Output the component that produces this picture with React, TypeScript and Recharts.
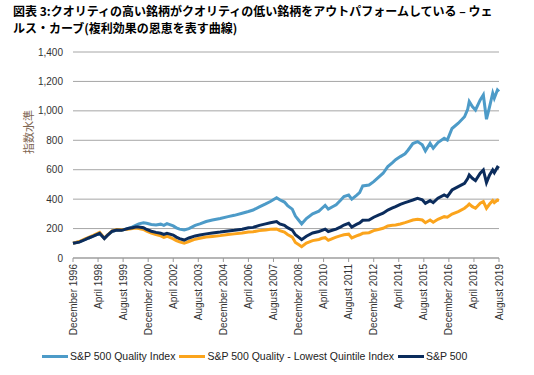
import { LineChart, Line, XAxis, YAxis, CartesianGrid, Legend } from "recharts";

const dates = [
  "1996-12", "1997-04", "1997-08", "1997-10", "1998-01", "1998-05", "1998-08", "1998-10",
  "1999-01", "1999-04", "1999-07", "1999-11", "2000-02", "2000-04", "2000-06", "2000-09",
  "2000-11", "2001-02", "2001-05", "2001-08", "2001-10", "2001-12", "2002-04", "2002-06",
  "2002-08", "2002-11", "2003-02", "2003-06", "2003-09", "2004-01", "2004-05", "2004-10",
  "2005-03", "2005-07", "2005-12", "2006-04", "2006-07", "2006-11", "2007-03", "2007-06",
  "2007-10", "2007-12", "2008-03", "2008-05", "2008-08", "2008-10", "2008-12", "2009-02",
  "2009-05", "2009-09", "2010-01", "2010-03", "2010-05", "2010-07", "2010-10", "2010-12",
  "2011-03", "2011-05", "2011-08", "2011-10", "2012-01", "2012-03", "2012-05", "2012-09",
  "2012-12", "2013-03", "2013-06", "2013-09", "2013-12", "2014-02", "2014-05", "2014-08",
  "2014-10", "2015-01", "2015-04", "2015-07", "2015-09", "2015-12", "2016-02", "2016-05",
  "2016-09", "2016-11", "2017-02", "2017-06", "2017-10", "2017-12", "2018-01", "2018-03",
  "2018-05", "2018-08", "2018-10", "2018-12", "2019-02", "2019-04", "2019-05", "2019-07",
  "2019-08",
];

const quality = [
  100, 110, 128, 136, 150, 168, 134, 156,
  180, 190, 188, 200, 212, 222, 232, 240,
  236, 228, 224, 230, 222, 234, 218, 205,
  196, 190, 200, 222, 232, 248, 258, 268,
  281, 290, 304, 316, 326, 348, 368, 384,
  410, 396, 380, 356, 332, 285, 258, 232,
  268, 300, 318, 338, 358, 332, 350, 362,
  394, 418, 428, 400, 426, 445, 490, 496,
  519, 548, 576, 621, 648, 668, 689, 708,
  734, 778, 791, 770, 728, 780, 746, 784,
  814, 802, 880, 916, 960, 1010, 1063, 1029,
  1006, 1074, 1108, 943, 1029, 1120, 1086, 1142,
  1131,
];

const lowest = [
  100, 112, 132, 140, 154, 174, 134, 156,
  184, 194, 192, 196, 200, 204, 200, 194,
  182, 170, 160, 150, 140, 148, 130, 118,
  110, 100, 112, 128, 134, 142, 146, 152,
  160, 164, 170, 176, 178, 186, 190, 196,
  197, 186, 176, 160, 142, 106, 92, 77,
  102, 118, 126, 134, 138, 120, 134, 142,
  152, 158, 162, 136, 150, 158, 168, 172,
  186, 194, 202, 218, 222, 224, 231, 240,
  247, 258, 263, 258, 240, 258, 243, 263,
  281, 277, 299, 315, 338, 356, 367, 349,
  338, 372, 383, 338, 367, 390, 376, 394,
  390,
];

const sp500 = [
  100, 108, 126, 136, 148, 168, 132, 154,
  182, 190, 188, 200, 206, 210, 210, 206,
  194, 182, 174, 168, 160, 168, 156, 142,
  132, 122, 136, 150, 156, 164, 170, 176,
  184, 188, 196, 205, 208, 222, 232, 240,
  248, 232, 222, 206, 190, 158, 142, 125,
  148, 170, 180, 188, 196, 180, 190, 196,
  212, 224, 236, 210, 228, 238, 256, 258,
  277, 292, 304, 326, 340, 349, 365, 376,
  383, 394, 406, 396, 372, 390, 376, 406,
  428, 417, 462, 485, 508, 540, 564, 542,
  526, 576, 598, 512, 564, 598, 580, 617,
  610,
];

const tickLabels = [
  "December 1996", "April 1998", "August 1999", "December 2000", "April 2002", "August 2003",
  "December 2004", "April 2006", "August 2007", "December 2008", "April 2010", "August 2011",
  "December 2012", "April 2014", "August 2015", "December 2016", "April 2018", "August 2019",
];

const MONTHS = ["January", "February", "March", "April", "May", "June", "July", "August", "September", "October", "November", "December"];

// months counted from December 1996
const toMonth = (y: number, m: number) => (y - 1996) * 12 + m - 12;
const data = dates.map((d, i) => {
  const [y, m] = d.split("-").map(Number);
  return { m: toMonth(y, m), quality: quality[i], lowest: lowest[i], sp500: sp500[i] };
});
const tickMap = new Map<number, string>();
tickLabels.forEach(l => {
  const [name, y] = l.split(" ");
  tickMap.set(toMonth(Number(y), MONTHS.indexOf(name) + 1), l);
});
const xTicks = [...tickMap.keys()];

const SERIES = [
  { key: "quality", name: "S&P 500 Quality Index", color: "#4d9bc8" },
  { key: "lowest", name: "S&P 500 Quality - Lowest Quintile Index", color: "#fba41c" },
  { key: "sp500", name: "S&P 500", color: "#0b2c5c" },
];

const FONT = "'Liberation Sans', Arial, sans-serif";

const XTick = ({ x, y, payload }: any) => (
  <text
    transform={`translate(${x},${y}) rotate(-90)`}
    textAnchor="end"
    dy="0.35em"
    fontSize={10}
    fontFamily={FONT}
    fill="#333"
  >
    {tickMap.get(payload.value)}
  </text>
);

const renderLegend = () => (
  <div style={{ display: "flex", alignItems: "center", fontFamily: FONT, fontSize: 10.5, color: "#222", whiteSpace: "nowrap" }}>
    {SERIES.map(s => (
      <span key={s.key} style={{ display: "flex", alignItems: "center", marginRight: 4 }}>
        <span style={{ width: 26, height: 3, background: s.color, marginRight: 2, display: "inline-block" }} />
        {s.name}
      </span>
    ))}
  </div>
);

export default function App() {
  return (
    <div style={{ position: "absolute", left: 0, top: 0, width: 534, height: 375, background: "#fff" }}>
      <div
        style={{
          position: "absolute", left: 13, top: 1.5, fontFamily: "'Noto Sans CJK JP', sans-serif",
          fontWeight: 700, fontSize: 12, lineHeight: "17.5px", color: "#000", whiteSpace: "nowrap",
        }}
      >
        <div>図表 3:クオリティの高い銘柄がクオリティの低い銘柄をアウトパフォームしている – ウェ</div>
        <div>ルス・カーブ(複利効果の恩恵を表す曲線)</div>
      </div>
      <LineChart width={534} height={375} data={data} margin={{ top: 52, right: 35, bottom: 37, left: 13 }}>
        <CartesianGrid vertical={false} stroke="#a6a6a6" />
        <XAxis
          dataKey="m"
          type="number"
          domain={[0, 272]}
          ticks={xTicks}
          interval={0}
          tick={<XTick />}
          tickSize={4}
          tickMargin={2}
          height={80}
          axisLine={{ stroke: "#999" }}
          tickLine={{ stroke: "#999" }}
        />
        <YAxis
          width={60}
          domain={[0, 1400]}
          ticks={[0, 200, 400, 600, 800, 1000, 1200, 1400]}
          tickFormatter={v => v.toLocaleString("en-US")}
          axisLine={false}
          tickLine={false}
          tickMargin={4}
          tick={{ fontSize: 10, fontFamily: FONT, fill: "#333" }}
          label={{
            content: ({ viewBox }: any) => {
              const cx = viewBox.x + 14.5;
              const cy = viewBox.y + viewBox.height / 2 - 23;
              return (
                <text
                  x={cx}
                  y={cy}
                  transform={`rotate(-90, ${cx}, ${cy})`}
                  textAnchor="middle"
                  dominantBaseline="central"
                  fontSize={11}
                  fontFamily="'Noto Sans CJK JP', sans-serif"
                  fill="#7d6450"
                >
                  指数水準
                </text>
              );
            },
          }}
        />
        {SERIES.map(s => (
          <Line
            key={s.key}
            dataKey={s.key}
            name={s.name}
            stroke={s.color}
            strokeWidth={3}
            dot={false}
            type="linear"
            isAnimationActive={false}
          />
        ))}
        <Legend verticalAlign="middle" content={renderLegend} wrapperStyle={{ top: 350, left: 42, width: "auto" }} />
      </LineChart>
    </div>
  );
}
